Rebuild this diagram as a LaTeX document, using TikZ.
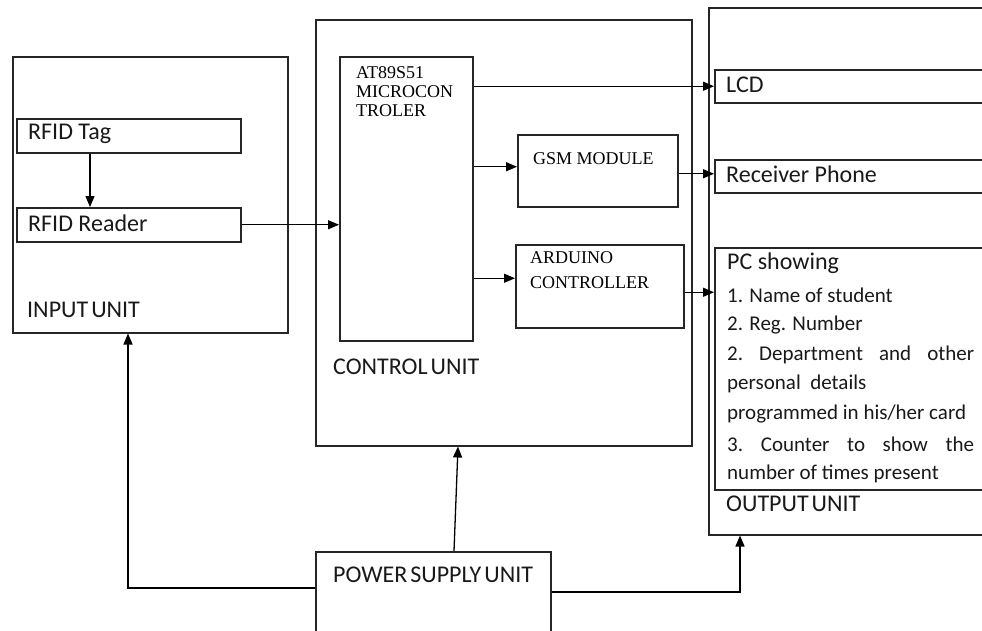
\documentclass[tikz,border=0pt]{standalone}
\usepackage{fontspec}
\setmainfont{Carlito}
\newfontfamily\timesf{Liberation Serif}
\usetikzlibrary{arrows.meta}
\begin{document}
\begin{tikzpicture}[x=1pt,y=-1pt,
  box/.style={draw=black!85, line width=1.5pt, inner sep=0pt, anchor=north west},
  lbl/.style={anchor=west, inner sep=0pt, text=black!90, font=\fontsize{24}{28}\selectfont},
  slbl/.style={anchor=west, inner sep=0pt, text=black!90, font=\fontsize{21}{25}\selectfont},
  tlbl/.style={anchor=west, inner sep=0pt, font=\timesf\fontsize{18}{20}\selectfont},
  arr/.style={line width=1.3pt, -{Triangle[length=11pt,width=9pt]}},
  conn/.style={line width=1.3pt}]
\useasboundingbox (0,0) rectangle (982,630);
\clip (0,0) rectangle (982,630);
% unit boxes
\node[box, minimum width=275pt, minimum height=276pt] (input) at (12,56) {};
\node[box, minimum width=376pt, minimum height=426pt] (control) at (315,19) {};
\node[box, minimum width=300pt, minimum height=527pt] (output) at (708,7) {};
\node[box, minimum width=235pt, minimum height=100pt] (power) at (315,551) {};
% inner boxes
\node[box, minimum width=224pt, minimum height=34pt] (tag) at (16,118) {};
\node[box, minimum width=224pt, minimum height=34pt] (reader) at (16,207) {};
\node[box, minimum width=133pt, minimum height=284pt] (micro) at (339,56) {};
\node[box, minimum width=160pt, minimum height=72pt] (gsm) at (517,134) {};
\node[box, minimum width=168pt, minimum height=83pt] (arduino) at (515,244) {};
\node[box, minimum width=300pt, minimum height=33pt] (lcd) at (714,69) {};
\node[box, minimum width=300pt, minimum height=33pt] (phone) at (714,159) {};
\node[box, minimum width=300pt, minimum height=242pt] (pc) at (714,247) {};
% labels
\node[lbl] (tagt) at (28,134) {RFID Tag};
\node[lbl] (readert) at (28,223) {RFID Reader};
\node[lbl] (inputt) at (27,310) {INPUT\hspace{3pt}UNIT};
\node[lbl] (controlt) at (333,367) {CONTROL\hspace{3pt}UNIT};
\node[lbl] (outputt) at (726,504) {OUTPUT\hspace{3pt}UNIT};
\node[lbl] (powert) at (333,575) {POWER\hspace{3pt}SUPPLY\hspace{3pt}UNIT};
\node[lbl] (lcdt) at (726,85) {LCD};
\node[lbl] (phonet) at (726,174) {Receiver Phone};
\node[tlbl] (m1) at (356,73) {AT89S51};
\node[tlbl] (m2) at (356,92) {MICROCON};
\node[tlbl] (m3) at (356,111) {TROLER};
\node[tlbl] (gsmt) at (533,159) {GSM MODULE};
\node[tlbl] (ard1) at (530,258) {ARDUINO};
\node[tlbl] (ard2) at (530,283) {CONTROLLER};
\node[lbl] (pc0) at (727,263) {PC showing};
\node[slbl] (pc1) at (727,295) {1. Name of student};
\node[slbl] (pc2) at (727,325) {2. Reg. Number};
\node[slbl] (pc3) at (727,355) {\makebox[247pt][s]{2.\ Department and other}};
\node[slbl] (pc4) at (727,384) {personal\ \ details};
\node[slbl] (pc5) at (727,414) {programmed in his/her card};
\node[slbl] (pc6) at (727,444) {\makebox[247pt][s]{3.\ Counter to show the}};
\node[slbl] (pc7) at (727,474) {number of times present};
% connectors
\draw[arr] ([xshift=74pt]tag.south west) -- ([xshift=74pt]reader.north west);
\draw[arr] (reader.east) -- (reader.east -| micro.west);
\draw[arr] (micro.east |- lcd.west) -- (lcd.west);
\draw[arr] ([yshift=4pt]micro.east |- gsm.west) -- ([yshift=4pt]gsm.west);
\draw[arr] ([yshift=8pt]micro.east |- arduino.west) -- ([yshift=8pt]arduino.west);
\draw[arr] ([yshift=-3pt]gsm.east) -- ([yshift=-3pt]gsm.east -| phone.west);
\draw[arr] ([yshift=-6pt]arduino.east) -- ([yshift=-6pt]arduino.east -| pc.west);
\draw[arr] ([xshift=139pt]power.north west) -- ([xshift=143pt]control.south west);
\coordinate (pl) at (128,588);
\coordinate (pr) at (740,592);
\draw[arr] (power.west |- pl) -- (pl) -- (pl |- input.south);
\draw[arr] (power.east |- pr) -- (pr) -- (pr |- output.south);
\end{tikzpicture}
\end{document}
